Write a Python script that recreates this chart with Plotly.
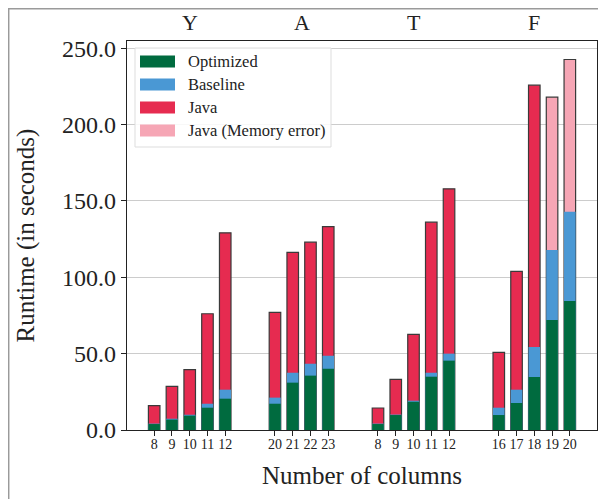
import plotly.graph_objects as go

# ---- data ----
groups = ["Y", "A", "T", "F"]
columns = [
    [8, 9, 10, 11, 12],
    [20, 21, 22, 23],
    [8, 9, 10, 11, 12],
    [16, 17, 18, 19, 20],
]
optimized = [
    [3.9, 6.8, 9.4, 14.6, 20.5],
    [17.2, 31.0, 35.6, 40.1],
    [3.9, 9.8, 18.5, 34.9, 45.4],
    [9.8, 17.7, 34.7, 72.0, 84.4],
]
baseline = [
    [4.2, 7.4, 10.0, 17.2, 26.4],
    [21.2, 37.5, 43.4, 48.6],
    [4.2, 10.1, 19.2, 37.5, 50.0],
    [14.6, 26.4, 54.3, 117.8, 142.9],
]
java = [
    [15.9, 28.6, 39.5, 76.1, 129.1],
    [77.0, 116.3, 123.0, 133.1],
    [14.4, 33.2, 62.6, 136.1, 157.9],
    [50.8, 103.8, 225.8, 217.9, 242.6],
]
java_memory_error = [
    [False] * 5,
    [False] * 4,
    [False] * 5,
    [False, False, False, True, True],
]
yticks = [0, 50, 100, 150, 200, 250]

# ---- styling ----
C_OPT = "#006B3F"
C_BASE = "#4A98D4"
C_JAVA = "#E62B50"
C_MEM = "#F6A6B5"
FONT = "Liberation Serif, Times New Roman, serif"
GROUP_GAP = 1.8
BAR_W = 0.65

# positions
xs, labels, centers = [], [], []
pos = 0.0
for cols in columns:
    start = pos
    for c in cols:
        xs.append(pos)
        labels.append(str(c))
        pos += 1
    centers.append((start + pos - 1) / 2)
    pos += GROUP_GAP

flat = lambda l: [v for g in l for v in g]
opt_f, base_f, java_f, mem_f = flat(optimized), flat(baseline), flat(java), flat(java_memory_error)

fig = go.Figure()
jx_ok = [x for x, m in zip(xs, mem_f) if not m]
jy_ok = [v for v, m in zip(java_f, mem_f) if not m]
jx_me = [x for x, m in zip(xs, mem_f) if m]
jy_me = [v for v, m in zip(java_f, mem_f) if m]
line = dict(color="#3a3a3a", width=1.2)
fig.add_trace(go.Bar(x=jx_ok, y=jy_ok, width=BAR_W, marker=dict(color=C_JAVA, line=line), name="Java"))
fig.add_trace(go.Bar(x=jx_me, y=jy_me, width=BAR_W, marker=dict(color=C_MEM, line=line), name="Java (Memory error)"))
fig.add_trace(go.Bar(x=xs, y=base_f, width=BAR_W, marker=dict(color=C_BASE, line=dict(width=0)), name="Baseline"))
fig.add_trace(go.Bar(x=xs, y=opt_f, width=BAR_W, marker=dict(color=C_OPT, line=dict(width=0)), name="Optimized"))

# page is offset by the 8px body margin
OFF = 8
W, H = 598, 491
L, T = 127 - OFF, 41 - OFF
R = W - (597 - OFF)
B = H - (430 - OFF)
pw, ph = W - L - R, H - T - B

def px2paper_x(px):
    return (px - OFF - L) / pw

def px2paper_y(py):
    return 1 - (py - OFF - T) / ph

shapes = []
annotations = []
# figure border (partly outside the image)
shapes.append(dict(type="rect", xref="paper", yref="paper",
                   x0=px2paper_x(8.7), x1=px2paper_x(700), y0=px2paper_y(700), y1=px2paper_y(8.7),
                   line=dict(color="#9a9a9a", width=1.5), fillcolor="rgba(0,0,0,0)", layer="below"))

# legend
shapes.append(dict(type="rect", xref="paper", yref="paper",
                   x0=px2paper_x(135), x1=px2paper_x(331), y0=px2paper_y(147), y1=px2paper_y(48),
                   line=dict(color="#dddddd", width=1), fillcolor="rgba(255,255,255,0.85)", layer="above"))
leg = [("Optimized", C_OPT), ("Baseline", C_BASE), ("Java", C_JAVA), ("Java (Memory error)", C_MEM)]
for i, (name, col) in enumerate(leg):
    cy = 61.5 + i * 23
    shapes.append(dict(type="rect", xref="paper", yref="paper",
                       x0=px2paper_x(140), x1=px2paper_x(175), y0=px2paper_y(cy + 6), y1=px2paper_y(cy - 6),
                       line=dict(width=0), fillcolor=col, layer="above"))
    annotations.append(dict(text=name, xref="paper", yref="paper", x=px2paper_x(186), y=px2paper_y(cy),
                            xanchor="left", yanchor="middle", showarrow=False,
                            font=dict(family=FONT, size=16.5, color="#222")))

for g, c in zip(groups, centers):
    annotations.append(dict(text=g, xref="x", yref="paper", x=c, y=px2paper_y(23),
                            xanchor="center", yanchor="middle", showarrow=False,
                            font=dict(family=FONT, size=22, color="#222")))

fig.update_layout(
    width=W, height=H,
    margin=dict(l=L, r=R, t=T, b=B, pad=0),
    barmode="overlay",
    showlegend=False,
    plot_bgcolor="white", paper_bgcolor="white",
    font=dict(family=FONT, color="#222"),
    shapes=shapes, annotations=annotations,
    xaxis=dict(
        range=[-1.53, 24.93], tickmode="array", tickvals=xs, ticktext=labels,
        tickfont=dict(size=14), ticks="outside", ticklen=5, tickcolor="#222",
        ticklabelstandoff=-4,
        showline=True, linecolor="#222", linewidth=1.2, mirror=True, showgrid=False, zeroline=False,
        title=dict(text="Number of columns", font=dict(size=25), standoff=15),
    ),
    yaxis=dict(
        range=[0, 254.7], tickmode="array", tickvals=yticks, ticktext=[f"{v:.1f}" for v in yticks],
        tickfont=dict(size=24), ticks="outside", ticklen=5, tickcolor="#222",
        showline=True, linecolor="#222", linewidth=1.2, mirror=True,
        showgrid=True, gridcolor="#cccccc", gridwidth=1, zeroline=False,
        title=dict(text="Runtime (in seconds)", font=dict(size=25), standoff=20),
    ),
)

fig.write_html("out.html")
